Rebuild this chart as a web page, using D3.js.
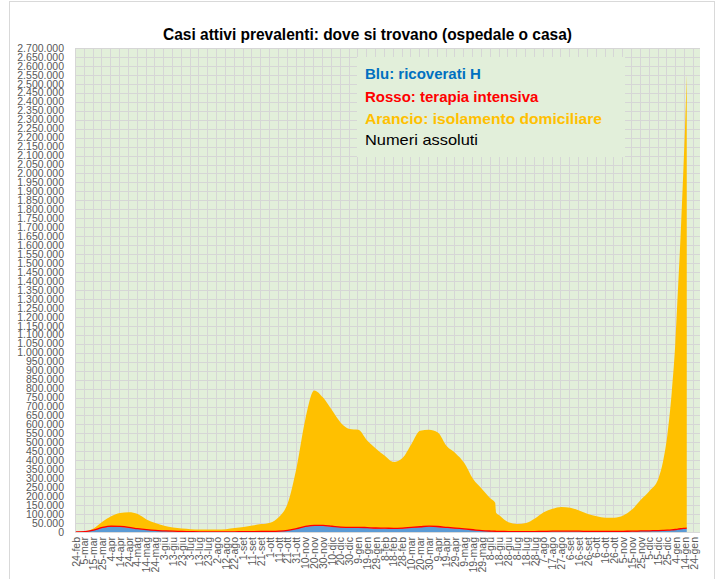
<!DOCTYPE html>
<html>
<head>
<meta charset="utf-8">
<script src="https://cdn.jsdelivr.net/npm/d3@7"></script>
<style>
  body { margin: 0; background: #fff; }
  svg { display: block; font-family: "Liberation Sans", Arial, sans-serif; }
</style>
</head>
<body>
<svg></svg>
<script>
// DATA
var dates = [
  "2020-02-24","2020-03-05","2020-03-15","2020-03-25","2020-04-04","2020-04-14","2020-04-24","2020-05-04",
  "2020-05-14","2020-05-24","2020-06-03","2020-06-13","2020-06-23","2020-07-03","2020-07-13","2020-07-23",
  "2020-08-02","2020-08-12","2020-08-22","2020-09-01","2020-09-11","2020-09-21","2020-10-01","2020-10-11",
  "2020-10-21","2020-10-31","2020-11-10","2020-11-20","2020-11-30","2020-12-10","2020-12-20","2020-12-30",
  "2021-01-09","2021-01-19","2021-01-29","2021-02-08","2021-02-18","2021-02-28","2021-03-10","2021-03-20",
  "2021-03-30","2021-04-09","2021-04-19","2021-04-29","2021-05-09","2021-05-19","2021-05-29","2021-06-08",
  "2021-06-13","2021-06-14","2021-06-18","2021-06-28","2021-07-08","2021-07-18","2021-07-28","2021-08-07",
  "2021-08-17","2021-08-27","2021-09-06","2021-09-16","2021-09-26","2021-10-06","2021-10-16","2021-10-26",
  "2021-11-05","2021-11-15","2021-11-25","2021-12-05","2021-12-15","2021-12-20","2021-12-25","2021-12-30",
  "2022-01-03","2022-01-06","2022-01-09","2022-01-12","2022-01-14","2022-01-16"
];

// Blu: ricoverati H
var ricoverati = [
  60, 1800, 9300, 22000, 29000, 28000, 24000, 17000,
  12000, 8200, 6000, 4300, 3100, 1900, 800, 780,
  770, 800, 1000, 1500, 2000, 2500, 3000, 4500,
  8700, 17000, 28600, 33600, 32800, 28900, 25000, 23000,
  23600, 22000, 20000, 19500, 18000, 19500, 23000, 26000,
  29000, 27000, 23000, 19000, 15000, 11000, 7000, 4500,
  3500, 3400, 3100, 2200, 1300, 1200, 2000, 3000,
  4000, 4200, 4200, 3900, 3000, 2700, 2500, 2600,
  3400, 4000, 5200, 6000, 7200, 8000, 9000, 10500,
  12500, 14500, 16500, 18000, 19000, 19500
];

// Rosso: terapia intensiva
var terapiaIntensiva = [
  25, 350, 1700, 3500, 4000, 3200, 2100, 1480,
  900, 550, 400, 230, 150, 80, 60, 50,
  40, 55, 70, 110, 180, 240, 290, 450,
  870, 1840, 2850, 3700, 3660, 3300, 2700, 2550,
  2600, 2450, 2250, 2100, 2050, 2300, 2750, 3250,
  3700, 3600, 3150, 2640, 2100, 1500, 1000, 700,
  550, 530, 460, 330, 200, 170, 250, 350,
  460, 550, 540, 500, 420, 380, 360, 370,
  420, 500, 700, 800, 900, 950, 1000, 1150,
  1350, 1500, 1600, 1650, 1700, 1700
];

// Arancio: isolamento domiciliare
var isolamento = [
  120, 1150, 9000, 31500, 55000, 74800, 83900, 81500,
  57100, 41250, 28600, 20470, 15750, 14020, 13140, 13170,
  13190, 15145, 20930, 26390, 33820, 41260, 48710, 79050,
  150430, 341160, 598550, 752700, 713540, 647800, 582300, 549450,
  543800, 485550, 442750, 403400, 369950, 391200, 464250, 535750,
  537300, 524400, 453850, 418360, 367900, 282500, 232000, 179800,
  158950, 104070, 88440, 51470, 43500, 48630, 72750, 106650,
  125540, 135250, 130260, 115600, 96580, 84920, 77140, 77030,
  88180, 120500, 174100, 223200, 291900, 381050, 530000, 768350,
  1036150, 1334000, 1631900, 1980350, 2229300, 2528800
];

var tickLabels = [
  "24-feb","5-mar","15-mar","25-mar","4-apr","14-apr","24-apr","4-mag","14-mag","24-mag",
  "3-giu","13-giu","23-giu","3-lug","13-lug","23-lug","2-ago","12-ago","22-ago","1-set",
  "11-set","21-set","1-ott","11-ott","21-ott","31-ott","10-nov","20-nov","30-nov","10-dic",
  "20-dic","30-dic","9-gen","19-gen","29-gen","8-feb","18-feb","28-feb","10-mar","20-mar",
  "30-mar","9-apr","19-apr","29-apr","9-mag","19-mag","29-mag","8-giu","18-giu","28-giu",
  "8-lug","18-lug","28-lug","7-ago","17-ago","27-ago","6-set","16-set","26-set","6-ott",
  "16-ott","26-ott","5-nov","15-nov","25-nov","5-dic","15-dic","25-dic","4-gen","14-gen","24-gen"
];

var yMax = 2700000,
    yStep = 50000;

var title = "Casi attivi prevalenti: dove si trovano (ospedale o casa)";
var legendLines = ["Blu: ricoverati H", "Rosso: terapia intensiva", "Arancio: isolamento domiciliare", "Numeri assoluti"];
var legendColors = ["#0070C0", "#FF0000", "#FFC000", "#000000"];
var seriesColors = ["#5B9BD5", "#FF0000", "#FFC000"];

//SETUP
var W = 720, H = 579;
var plot = {left: 75, right: 700, top: 48, bottom: 532};

var svg = d3.select('svg')
    .attr('width', W)
    .attr('height', H);

var parse = d3.timeParse('%Y-%m-%d');
var rows = dates.map(function(d, i) {
    return {date: parse(d), ric: ricoverati[i], ti: terapiaIntensiva[i], iso: isolamento[i]};
});
var start = parse('2020-02-24');
var tickDates = tickLabels.map(function(l, i) { return d3.timeDay.offset(start, i * 10); });

var x = d3.scaleTime()
    .domain([parse('2020-02-23'), parse('2022-01-31')])
    .range([plot.left, plot.right]);

var y = d3.scaleLinear()
    .domain([0, yMax])
    .range([plot.bottom, plot.top]);

var it = d3.formatLocale({decimal: ',', thousands: '.', grouping: [3], currency: ['', '€']});
var fmt = it.format(',d');

// chart area border
svg.append('rect')
    .attr('x', 9.5).attr('y', 1.5)
    .attr('width', 705).attr('height', 620)
    .attr('fill', '#fff')
    .attr('stroke', '#D9D9D9');

// plot background
svg.append('rect')
    .attr('x', plot.left).attr('y', plot.top)
    .attr('width', plot.right - plot.left)
    .attr('height', plot.bottom - plot.top)
    .attr('fill', '#E2EFDA');

// GRID
var gridG = svg.append('g').attr('stroke', '#D6D6D6').attr('stroke-width', 1);
gridG.selectAll('.hg')
    .data(d3.range(yStep, yMax + 1, yStep))
    .enter().append('line')
    .attr('x1', plot.left).attr('x2', plot.right)
    .attr('y1', function(d) { return Math.round(y(d)) + 0.5; })
    .attr('y2', function(d) { return Math.round(y(d)) + 0.5; });
gridG.selectAll('.vg')
    .data(tickDates)
    .enter().append('line')
    .attr('y1', plot.top).attr('y2', plot.bottom)
    .attr('x1', function(d) { return Math.round(x(d)) - 0.5; })
    .attr('x2', function(d) { return Math.round(x(d)) - 0.5; });

// STACKED AREAS
var stack = d3.stack().keys(['ric', 'ti', 'iso']);
var layers = stack(rows);

var area = d3.area()
    .x(function(d) { return x(d.data.date); })
    .y0(function(d) { return y(d[0]); })
    .y1(function(d) { return y(d[1]); })
    .curve(d3.curveMonotoneX);

svg.append('g').selectAll('path')
    .data(layers)
    .enter().append('path')
    .attr('d', area)
    .attr('fill', function(d, i) { return seriesColors[i]; });

// red band outline so the thin layer stays visible
svg.append('path')
    .datum(layers[1])
    .attr('fill', 'none')
    .attr('stroke', '#FF0000')
    .attr('stroke-width', 1.3)
    .attr('d', d3.line()
        .x(function(d) { return x(d.data.date); })
        .y(function(d) { return y(d[1]); })
        .curve(d3.curveMonotoneX));

// x axis line
svg.append('line')
    .attr('x1', plot.left).attr('x2', plot.right)
    .attr('y1', plot.bottom + 0.5).attr('y2', plot.bottom + 0.5)
    .attr('stroke', '#D9D9D9');

// Y AXIS
svg.append('g').selectAll('text')
    .data(d3.range(0, yMax + 1, yStep))
    .enter().append('text')
    .attr('x', 64)
    .attr('y', function(d) { return y(d); })
    .attr('dy', '0.35em')
    .attr('text-anchor', 'end')
    .attr('font-size', 10.5)
    .attr('fill', '#595959')
    .text(function(d) { return fmt(d); });

// X AXIS labels
svg.append('g').selectAll('text')
    .data(tickLabels)
    .enter().append('text')
    .attr('transform', function(d, i) {
        return 'translate(' + x(tickDates[i]) + ',' + (plot.bottom + 5) + ') rotate(-90)';
    })
    .attr('dy', '0.35em')
    .attr('text-anchor', 'end')
    .attr('font-size', 10.5)
    .attr('fill', '#595959')
    .text(function(d) { return d; });

function fit(sel, w) {
    var len = sel.node().getComputedTextLength();
    if (Math.abs(len - w) / w > 0.03) {
        sel.attr('textLength', w).attr('lengthAdjust', 'spacingAndGlyphs');
    }
}

// TITLE
var t = svg.append('text')
    .attr('x', 163).attr('y', 40)
    .attr('font-size', 16)
    .attr('font-weight', 'bold')
    .attr('fill', '#000')
    .text(title);
fit(t, 409);

// LEGEND box
svg.append('rect')
    .attr('x', 357).attr('y', 57)
    .attr('width', 268).attr('height', 100)
    .attr('fill', '#E2EFDA');

var legendWidths = [118, 178, 237, 113];
var legendY = [79, 102, 124, 145];
legendLines.forEach(function(l, i) {
    var lt = svg.append('text')
        .attr('x', 365).attr('y', legendY[i])
        .attr('font-size', 15)
        .attr('font-weight', i < 3 ? 'bold' : 'normal')
        .attr('fill', legendColors[i])
        .text(l);
    fit(lt, legendWidths[i]);
});
</script>
</body>
</html>
